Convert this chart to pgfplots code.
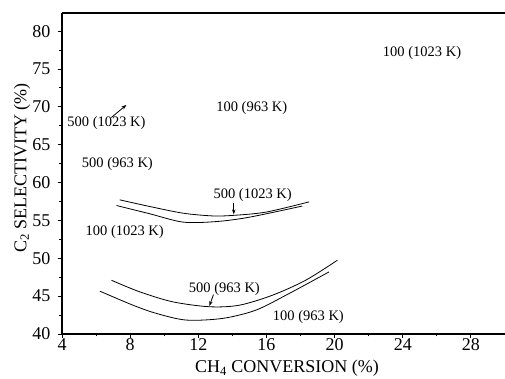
\documentclass[border=0pt]{standalone}
\usepackage{fontspec}
\setmainfont{Liberation Serif}
\usepackage{pgfplots}
\pgfplotsset{compat=1.18}
\usetikzlibrary{arrows.meta}
\begin{document}
\begin{tikzpicture}
\useasboundingbox (-62pt,-45pt) rectangle (443pt,334pt);
\begin{axis}[
  at={(0,0)}, anchor=south west,
  scale only axis,
  width=443pt, height=321pt,
  xmin=4, xmax=30, ymin=40, ymax=82.4,
  axis x line*=box, axis y line*=left,
  axis line style={line width=1.2pt},
  xtick={4,8,...,28}, ytick={40,45,...,80},
  minor x tick num=1, minor y tick num=1,
  xtick pos=left, ytick pos=left,
  tick align=outside,
  major tick length=4pt, minor tick length=2.5pt,
  every tick/.style={black, line width=0.9pt},
  /pgf/number format/assume math mode=true,
  tick label style={font=\fontsize{18}{20}\selectfont},
  xticklabel style={yshift=3pt},
  yticklabel style={xshift=-4pt},
  xlabel={CH\textsubscript{4} CONVERSION (\%)},
  ylabel={C\textsubscript{2} SELECTIVITY (\%)},
  label style={font=\fontsize{18}{20}\selectfont},
  xlabel style={at={(axis description cs:0.508,-0.12)}, anchor=base},
  ylabel style={at={(axis description cs:-0.0903,0.517)}, anchor=center},
  clip=false,
]
% 500 (1023 K)
\addplot[black, line width=0.8pt, smooth] coordinates {
 (7.39,57.72) (9.15,56.84) (11.1,55.96) (12.8,55.6) (14.0,55.66) (15.97,56.1) (18.5,57.45)};
% 100 (1023 K)
\addplot[black, line width=0.8pt, smooth] coordinates {
 (7.2,56.97) (9.15,55.88) (11.1,54.78) (13.05,54.85) (15.0,55.43) (18.1,56.9)};
% 500 (963 K)
\addplot[black, line width=0.8pt, smooth] coordinates {
 (6.9,47.1) (8.56,45.57) (10.5,44.25) (12.65,43.6) (14.4,43.8) (16.36,45.13) (18.3,47.1) (20.16,49.74)};
% 100 (963 K)
\addplot[black, line width=0.8pt, smooth] coordinates {
 (6.22,45.66) (8.17,43.8) (9.54,42.72) (11.29,41.84) (13.43,42.06) (15.39,43.16) (17.33,45.35) (19.67,48.2)};

\begin{scope}[every node/.style={font=\fontsize{14.5}{16}\selectfont, inner sep=0pt}]
\node at (axis cs:25.13,77.15) {100 (1023 K)};
\node at (axis cs:15.14,69.83) {100 (963 K)};
\node at (axis cs:6.61,67.9) {500 (1023 K)};
\node at (axis cs:7.25,62.5) {500 (963 K)};
\node at (axis cs:15.19,58.3) {500 (1023 K)};
\node at (axis cs:7.68,53.46) {100 (1023 K)};
\node at (axis cs:13.53,46.0) {500 (963 K)};
\node at (axis cs:18.46,42.28) {100 (963 K)};
\end{scope}
\draw[line width=0.8pt, -{Stealth[length=5pt,width=3.5pt]}] (axis cs:6.9,68.6) -- (axis cs:7.78,70.26);
\draw[line width=0.8pt, -{Stealth[length=5pt,width=3.5pt]}] (axis cs:14.08,57.3) -- (axis cs:14.08,55.8);
\draw[line width=0.8pt, -{Stealth[length=5pt,width=3.5pt]}] (axis cs:12.89,45.2) -- (axis cs:12.65,43.7);
\end{axis}
\end{tikzpicture}
\end{document}
